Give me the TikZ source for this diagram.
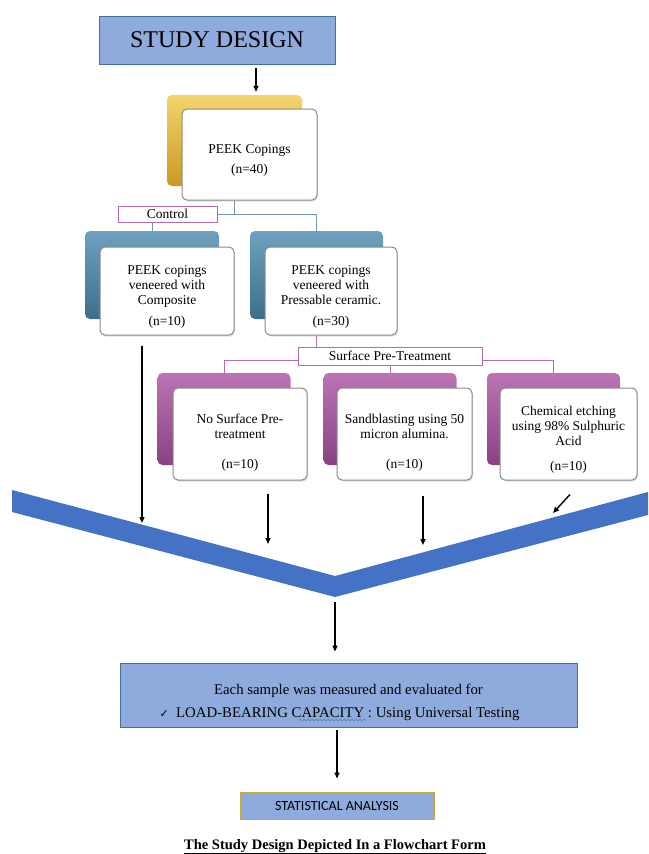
\documentclass[tikz,border=0pt]{standalone}
\usepackage{fontspec}
\setmainfont{Liberation Serif}
\newfontfamily\calibrifont{Carlito}
\newfontfamily\symbolfont{DejaVu Sans}
\usetikzlibrary{arrows.meta,positioning,calc,shadows,decorations.pathmorphing}
\definecolor{sdHead}{HTML}{8FAADC}
\definecolor{sdHeadLine}{HTML}{41719C}
\definecolor{sdBand}{HTML}{4472C4}
\definecolor{sdGoldTop}{HTML}{F3D46C}
\definecolor{sdGoldBot}{HTML}{C99A22}
\definecolor{sdSteelTop}{HTML}{6FA0BF}
\definecolor{sdSteelBot}{HTML}{3C6F8D}
\definecolor{sdPlumTop}{HTML}{BD74B5}
\definecolor{sdPlumBot}{HTML}{884283}
\definecolor{sdSteelLine}{HTML}{6F98B0}
\definecolor{sdPlumLine}{HTML}{B46BAE}
\definecolor{sdFrame}{HTML}{8A8A8A}
\definecolor{sdOlive}{HTML}{C9A53A}
\definecolor{sdWave}{HTML}{4F7FD0}
\newcommand{\padtop}[1]{\rule{0pt}{#1}}
\tikzset{
  arr/.style={-{Triangle[length=6pt,width=5pt]}, line width=1.4pt, draw=black},
  headbox/.style={draw=sdHeadLine, fill=sdHead, line width=0.8pt, inner sep=0pt},
  frontbox/.style={rounded corners=5pt, draw=sdFrame, fill=white, line width=1pt, align=center, inner sep=2pt, font=\fontsize{13.5}{15}\selectfont, drop shadow={opacity=0.25,shadow xshift=1pt,shadow yshift=-1.5pt}},
  goldback/.style={rounded corners=5pt, top color=sdGoldTop, bottom color=sdGoldBot, draw=none},
  steelback/.style={rounded corners=5pt, top color=sdSteelTop, bottom color=sdSteelBot, draw=none},
  plumback/.style={rounded corners=5pt, top color=sdPlumTop, bottom color=sdPlumBot, draw=none},
  tagbox/.style={draw=sdPlumLine, fill=white, line width=0.9pt, inner sep=0pt, font=\fontsize{13.5}{15}\selectfont},
  steelline/.style={draw=sdSteelLine, line width=1pt},
  plumline/.style={draw=sdPlumLine, line width=1pt},
  spellwave/.style={draw=sdWave, line width=0.6pt, decorate, decoration={snake, amplitude=0.9pt, segment length=4pt}}
}
\begin{document}
\begin{tikzpicture}[x=1pt,y=-1pt]
  \useasboundingbox (0,0) rectangle (648,854);
  \node[headbox, minimum width=236, minimum height=48, font=\fontsize{24}{26}\selectfont] (design) at (217,40) {STUDY DESIGN};

  \node[goldback, minimum width=135, minimum height=91] (peekback) at (234.5,140.5) {};
  \node[frontbox, minimum width=135, minimum height=91] (peek) at (249.5,154.5) {\padtop{20pt}PEEK Copings\\[5pt](n=40)};

  \node[tagbox, minimum width=99, minimum height=16] (control) at (167.5,214) {Control};
  \node[steelback, minimum width=134, minimum height=88] (compback) at (152,275) {};
  \node[frontbox, minimum width=134, minimum height=88] (comp) at (167,291) {\padtop{20pt}PEEK copings\\veneered with\\Composite\\[6pt](n=10)};
  \node[steelback, minimum width=133, minimum height=88] (pressback) at (316.5,275) {};
  \node[frontbox, minimum width=132, minimum height=88] (press) at (331,291) {\padtop{20pt}PEEK copings\\veneered with\\Pressable ceramic.\\[6pt](n=30)};

  \node[tagbox, minimum width=184, minimum height=18] (surf) at (390,356) {Surface Pre-Treatment};
  \node[plumback, minimum width=133, minimum height=92] (nosurfback) at (224,419) {};
  \node[frontbox, minimum width=134, minimum height=92] (nosurf) at (240,434) {\padtop{26pt}No Surface Pre-\\treatment\\[15pt](n=10)};
  \node[plumback, minimum width=133, minimum height=92] (sandback) at (390,419) {};
  \node[frontbox, minimum width=135, minimum height=92] (sand) at (404.5,434) {\padtop{26pt}Sandblasting using 50\\micron alumina.\\[15pt](n=10)};
  \node[plumback, minimum width=133, minimum height=92] (chemback) at (553.5,419) {};
  \node[frontbox, minimum width=137, minimum height=92] (chem) at (568.5,434) {\padtop{20pt}Chemical etching\\using 98\% Sulphuric\\Acid\\[10pt](n=10)};

  \draw[arr] ([xshift=39pt,yshift=-4pt]design.south) -- ([xshift=21.5pt,yshift=3pt]peekback.north);
  \draw[steelline] (peek.south -| peekback.south) -- (peekback.south |- control.east);
  \draw[steelline] (control.east) -| (pressback.north);
  \draw[steelline] (control.south -| compback.north) -- (compback.north);
  \draw[plumline] (press.south -| pressback.south) -- (surf.north -| pressback.south);
  \draw[plumline] ([yshift=-4pt]surf.west) -| (nosurfback.north);
  \draw[plumline] ([yshift=-4pt]surf.east) -| (chemback.north);
  \draw[plumline] (surf.south -| sandback.north) -- (sandback.north);

  \fill[sdBand] (12,490) -- (335,576) -- (648,492) -- (648,515) -- (335,597) coordinate (vtip) -- (12,512) -- cycle;
  \coordinate (hit1) at (142,523);
  \coordinate (hit2) at (268,544);
  \coordinate (hit3) at (423,545);
  \coordinate (hit4) at (553,513);
  \draw[arr] ([xshift=-25pt,yshift=-10pt]comp.south) -- (hit1);
  \draw[arr] ([xshift=28pt,yshift=-13pt]nosurf.south) -- (hit2);
  \draw[arr] ([xshift=18.5pt,yshift=-15pt]sand.south) -- (hit3);
  \draw[arr] ([xshift=1.5pt,yshift=-14pt]chem.south) -- (hit4);

  \node[headbox, minimum width=457, minimum height=64, align=center, font=\fontsize{14.8}{16}\selectfont] (eval) at (348.5,695) {\padtop{26pt}Each sample was measured and evaluated for\\[7pt]{\symbolfont\fontsize{11}{16}\selectfont ✓}\ \ LOAD-BEARING CAPACITY : Using Universal Testing\hspace*{18pt}};
  \draw[spellwave] (299,720) -- (366,720);
  \draw[arr] ([yshift=-5pt]vtip) -- ([yshift=11pt]eval.north -| vtip);

  \node[draw=sdOlive, fill=sdHead, line width=0.9pt, minimum width=194, minimum height=27, inner sep=0pt, font=\calibrifont\fontsize{14}{16}\selectfont] (stat) at (337,805.5) {STATISTICAL ANALYSIS};
  \draw[arr] ([yshift=-3pt]eval.south -| stat.north) -- ([yshift=13pt]stat.north);

  \node[anchor=base, font=\bfseries\fontsize{14.5}{16}\selectfont] (caption) at (335,849) {\underline{The Study Design Depicted In a Flowchart Form}};
\end{tikzpicture}
\end{document}
